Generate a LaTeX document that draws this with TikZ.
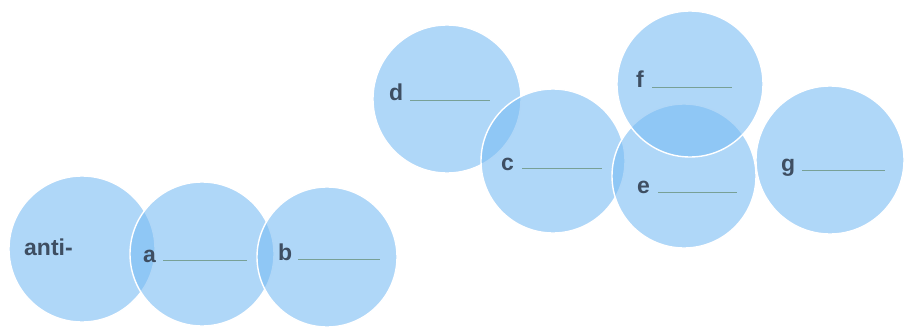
\documentclass[tikz,border=0pt]{standalone}
\usepackage{fontspec}
\setmainfont{Liberation Sans}
\definecolor{bubble}{RGB}{122,188,243}
\definecolor{ink}{RGB}{62,78,98}
\definecolor{blank}{RGB}{120,160,150}
\begin{document}
\begin{tikzpicture}[x=1pt,y=-1pt,
  bubblestyle/.style={circle,inner sep=0pt,minimum size=#1,fill=bubble,fill opacity=0.6,draw=white,draw opacity=1,line width=1.4pt},
  lbl/.style={anchor=base west,inner sep=0pt,text=ink,font=\bfseries\fontsize{23}{26}\selectfont},
  blankline/.style={draw=blank,line width=0.9pt}]
\useasboundingbox (0,0) rectangle (911,335);
\node[bubblestyle=146pt] (canti) at (82,249) {};
\node[bubblestyle=144pt] (ca) at (202,254) {};
\node[bubblestyle=140pt] (cb) at (327,257) {};
\node[bubblestyle=148pt] (cd) at (447,99) {};
\node[bubblestyle=144pt] (cc) at (553,161) {};
\node[bubblestyle=144pt] (ce) at (684,176) {};
\node[bubblestyle=146pt] (cf) at (690,84) {};
\node[bubblestyle=148pt] (cg) at (830,160) {};
\node[lbl] (tanti) at (24,255) {anti-};
\node[lbl] (ta) at (143,262) {a};
\node[lbl] (tb) at (278,260) {b};
\node[lbl] (td) at (389,100) {d};
\node[lbl] (tc) at (501,170) {c};
\node[lbl] (tf) at (636,87) {f};
\node[lbl] (te) at (637,193) {e};
\node[lbl] (tg) at (781,171) {g};
\coordinate (la1) at (163,260); \coordinate (la2) at (247,260);
\coordinate (lb1) at (298,259); \coordinate (lb2) at (380,259);
\coordinate (ld1) at (410,100); \coordinate (ld2) at (490,100);
\coordinate (lc1) at (522,168); \coordinate (lc2) at (602,168);
\coordinate (lf1) at (652,87); \coordinate (lf2) at (732,87);
\coordinate (le1) at (658,192); \coordinate (le2) at (737,192);
\coordinate (lg1) at (802,170); \coordinate (lg2) at (885,170);
\draw[blankline] (la1) -- (la2);
\draw[blankline] (lb1) -- (lb2);
\draw[blankline] (ld1) -- (ld2);
\draw[blankline] (lc1) -- (lc2);
\draw[blankline] (lf1) -- (lf2);
\draw[blankline] (le1) -- (le2);
\draw[blankline] (lg1) -- (lg2);
\end{tikzpicture}
\end{document}
